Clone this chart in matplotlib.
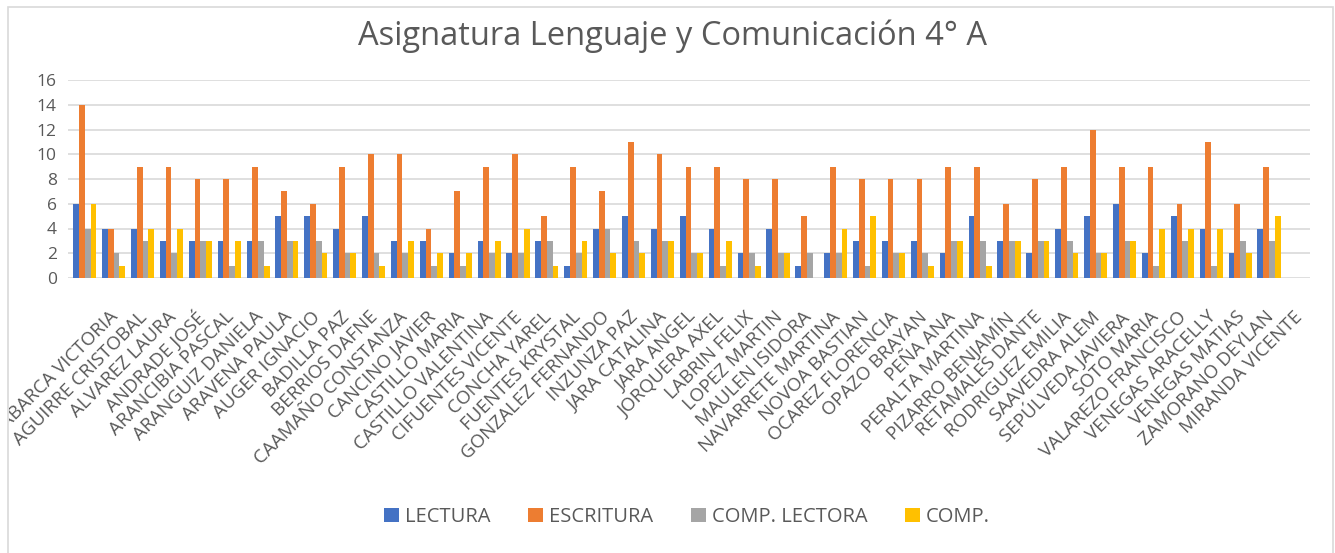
'''Bar chart: Asignatura Lenguaje y Comunicación 4° A'''

import numpy as np
import matplotlib
matplotlib.use("Agg")
import matplotlib.pyplot as plt
from matplotlib.patches import Rectangle
from matplotlib.transforms import ScaledTranslation, Bbox

# data
students = ["ABARCA VICTORIA", "AGUIRRE CRISTOBAL", "ALVAREZ LAURA", "ANDRADE JOSÉ",
            "ARANCIBIA PASCAL", "ARANGUIZ DANIELA", "ARAVENA PAULA", "AUGER IGNACIO",
            "BADILLA PAZ", "BERRIOS DAFNE", "CAAMAÑO CONSTANZA", "CANCINO JAVIER",
            "CASTILLO MARIA", "CASTILLO VALENTINA", "CIFUENTES VICENTE", "CONCHA YAREL",
            "FUENTES KRYSTAL", "GONZALEZ FERNANDO", "INZUNZA PAZ", "JARA CATALINA",
            "JARA ANGEL", "JORQUERA AXEL", "LABRIN FELIX", "LOPEZ MARTIN",
            "MAULEN ISIDORA", "NAVARRETE MARTINA", "NOVOA BASTIAN", "OCAREZ FLORENCIA",
            "OPAZO BRAYAN", "PEÑA ANA", "PERALTA MARTINA", "PIZARRO BENJAMÍN",
            "RETAMALES DANTE", "RODRIGUEZ EMILIA", "SAAVEDRA ALEM", "SEPÚLVEDA JAVIERA",
            "SOTO MARIA", "VALAREZO FRANCISCO", "VENEGAS ARACELLY", "VENEGAS MATIAS",
            "ZAMORANO DEYLAN", "MIRANDA VICENTE", ""]

lectura = [6, 4, 4, 3, 3, 3, 3, 5, 5, 4, 5, 3, 3, 2, 3, 2, 3, 1, 4, 5, 4,
           5, 4, 2, 4, 1, 2, 3, 3, 3, 2, 5, 3, 2, 4, 5, 6, 2, 5, 4, 2, 4, 0]
escritura = [14, 4, 9, 9, 8, 8, 9, 7, 6, 9, 10, 10, 4, 7, 9, 10, 5, 9, 7, 11, 10,
             9, 9, 8, 8, 5, 9, 8, 8, 8, 9, 9, 6, 8, 9, 12, 9, 9, 6, 11, 6, 9, 0]
comp_lectora = [4, 2, 3, 2, 3, 1, 3, 3, 3, 2, 2, 2, 1, 1, 2, 2, 3, 2, 4, 3, 3,
                2, 1, 2, 2, 2, 2, 1, 2, 2, 3, 3, 3, 3, 3, 2, 3, 1, 3, 1, 3, 3, 0]
comp = [6, 1, 4, 4, 3, 3, 1, 3, 2, 2, 1, 3, 2, 2, 3, 4, 1, 3, 2, 2, 3,
        2, 3, 1, 2, 0, 4, 5, 2, 1, 3, 1, 3, 3, 2, 2, 3, 4, 4, 4, 2, 5, 0]

series = ["LECTURA", "ESCRITURA", "COMP. LECTORA", "COMP."]
colors = ["#4472C4", "#ED7D31", "#A5A5A5", "#FFC000"]

plt.rcParams['font.family'] = ['Open Sans', 'DejaVu Sans']
txt = "#595959"

W, H = 1335, 553
fig = plt.figure(figsize=(W / 100, H / 100), dpi=100)
ax = fig.add_axes([68 / W, 1 - 278 / H, (1310 - 68) / W, (278 - 80) / H])

x = np.arange(len(students))
bw = 0.2
for k, (vals, name, c) in enumerate(zip([lectura, escritura, comp_lectora, comp], series, colors)):
    ax.bar(x + (k - 1.5) * bw + 0.08, vals, width=bw, color=c, label=name, zorder=2)

ax.set_xlim(-0.5, len(students) - 0.5)
ax.set_ylim(0, 16)
ax.set_yticks(np.arange(0, 17, 2))
ax.yaxis.grid(True, color="#D9D9D9", lw=1.2, zorder=0)
for s in ax.spines.values():
    s.set_visible(False)
ax.tick_params(axis="y", length=0, labelsize=12.5, labelcolor=txt, pad=8)
ax.tick_params(axis="x", length=0, pad=26)

ax.set_xticks(x)
ax.set_xticklabels(students, rotation=45, ha="right", va="center",
                   rotation_mode="anchor", fontsize=13.5, color=txt)
clip = Bbox.from_extents(9, 0, W, H)
for lab in ax.get_xticklabels():
    lab.set_transform(lab.get_transform() + ScaledTranslation(0.33, 0, fig.dpi_scale_trans))
    lab.set_clip_box(clip)
    lab.set_clip_on(True)

fig.text(672 / W, 1 - 36 / H, "Asignatura Lenguaje y Comunicación 4° A",
         ha="center", va="center", fontsize=23.5, color=txt)

leg = fig.legend(loc="center", bbox_to_anchor=(687 / W, 1 - 517 / H), ncol=4,
                 frameon=False, fontsize=14.5, handlelength=0.75, handleheight=0.75,
                 handletextpad=0.3, columnspacing=1.85, labelcolor=txt)

fig.patches.append(Rectangle((8 / W, -0.01), (W - 10) / W, 1 - 7 / H + 0.01,
                             transform=fig.transFigure, fill=False,
                             edgecolor="#D9D9D9", lw=1.2))

fig.savefig("out.png", dpi=100)
